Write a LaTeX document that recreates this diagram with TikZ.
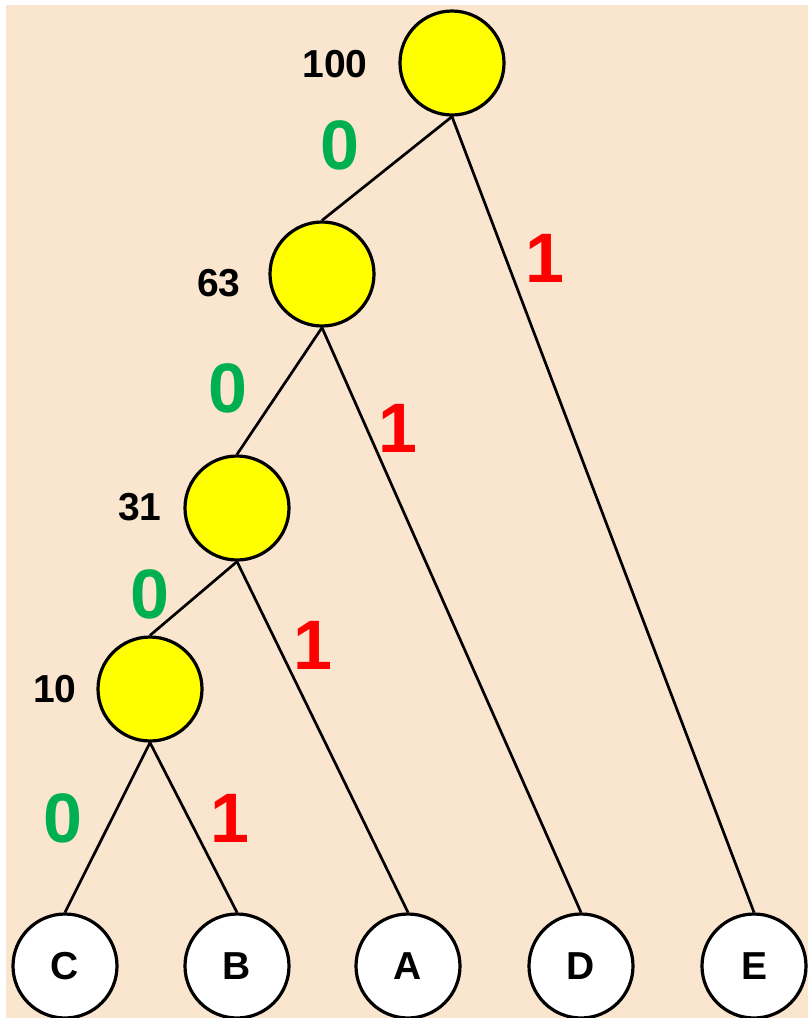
\documentclass[tikz,border=0pt]{standalone}
\usepackage{fontspec}
\setmainfont{Liberation Sans}
\definecolor{bgpeach}{HTML}{FAE5CF}
\definecolor{zgreen}{HTML}{00B050}
\definecolor{ored}{HTML}{FF0000}
\definecolor{nyellow}{HTML}{FFFF00}
\begin{document}
\begin{tikzpicture}[x=1pt,y=-1pt,
  inner/.style={circle,draw=black,line width=3.2pt,fill=nyellow,minimum size=104pt,inner sep=0pt},
  leaf/.style={circle,draw=black,line width=3.2pt,fill=white,minimum size=104pt,inner sep=0pt,font=\fontsize{39}{42}\selectfont\bfseries},
  wlabel/.style={inner sep=0pt,font=\fontsize{39}{42}\selectfont\bfseries},
  zero/.style={inner sep=0pt,text=zgreen,font=\fontsize{70}{76}\selectfont\bfseries},
  one/.style={inner sep=0pt,text=ored,font=\fontsize{70}{76}\selectfont\bfseries},
  edge/.style={line width=2.7pt,draw=black}]
\useasboundingbox (0,0) rectangle (808,1018);
\fill[bgpeach] (6,5) rectangle (808,1018);
\node[inner] (R) at (452,63) {};
\node[inner] (n63) at (322,274) {};
\node[inner] (n31) at (237,508) {};
\node[inner] (n10) at (150,689) {};
\node[leaf] (C) at (65,966) {C};
\node[leaf] (B) at (237,966) {B};
\node[leaf] (A) at (408,966) {A};
\node[leaf] (D) at (581,966) {D};
\node[leaf] (E) at (754,966) {E};
\draw[edge] (R.south) -- (n63.north);
\draw[edge] (R.south) -- (E.north);
\draw[edge] (n63.south) -- (n31.north);
\draw[edge] (n63.south) -- (D.north);
\draw[edge] (n31.south) -- (n10.north);
\draw[edge] (n31.south) -- (A.north);
\draw[edge] (n10.south) -- (C.north);
\draw[edge] (n10.south) -- (B.north);
\node[wlabel] (wR) at (335,64) {100};
\node[wlabel] (w63) at (219,283) {63};
\node[wlabel] (w31) at (140,507) {31};
\node[wlabel] (w10) at (55,689) {10};
\node[zero] (z1) at (340,145) {0};
\node[zero] (z2) at (228,388) {0};
\node[zero] (z3) at (150,594) {0};
\node[zero] (z4) at (63,818) {0};
\node[one] (o1) at (545,258) {1};
\node[one] (o2) at (398,428) {1};
\node[one] (o3) at (313,645) {1};
\node[one] (o4) at (230,818) {1};
\end{tikzpicture}
\end{document}
